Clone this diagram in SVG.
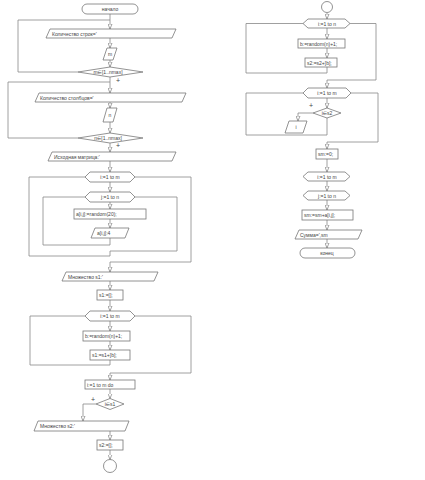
<svg xmlns="http://www.w3.org/2000/svg" width="425" height="480" viewBox="0 0 425 480">
<defs>
<marker id="arr" viewBox="0 0 10 10" refX="10" refY="5" markerWidth="5" markerHeight="5" orient="auto" markerUnits="userSpaceOnUse">
<path d="M0,1 L10,5 L0,9 z" fill="#fff" stroke="#777" stroke-width="1.3"/>
</marker>
<style>
.s{fill:#fff;stroke:#777;stroke-width:0.8}
.c{fill:none;stroke:#888;stroke-width:0.8}
.ca{fill:none;stroke:#888;stroke-width:0.8;marker-end:url(#arr)}
text{font-family:"Liberation Sans","DejaVu Sans",sans-serif;font-size:5px;fill:#444}
.m{text-anchor:middle}
.p{font-size:7px}
</style>
</defs>
<rect width="425" height="480" fill="#fff"/>

<g id="connectors">
<path class="ca" d="M110,14 V29"/>
<path class="c" d="M78,72 H18 V20 H110"/>
<path class="ca" d="M110,38 V48"/>
<path class="ca" d="M110,60 V67"/>
<path class="ca" d="M110,77 V93"/>
<path class="c" d="M78,138 H8 V82 H110"/>
<path class="ca" d="M110,102 V108"/>
<path class="ca" d="M110,122 V133"/>
<path class="ca" d="M110,143 V152"/>
<path class="ca" d="M110,161 V172"/>
<path class="ca" d="M110,182 V192"/>
<path class="ca" d="M110,202 V209"/>
<path class="ca" d="M110,219 V228"/>
<path class="c" d="M110,238 V245 H43 V197 H85"/>
<path class="c" d="M135,197 H177 V251 H110 V256 H29 V177 H85"/>
<path class="c" d="M135,177 H191 V262 H110"/>
<path class="ca" d="M110,262 V272"/>
<path class="ca" d="M110,281 V290"/>
<path class="ca" d="M110,300 V311"/>
<path class="ca" d="M110,321 V331"/>
<path class="ca" d="M110,341 V350"/>
<path class="c" d="M110,360 V365 H30 V316 H85"/>
<path class="c" d="M135,316 H191 V373 H110"/>
<path class="ca" d="M110,373 V380"/>
<path class="ca" d="M110,389 V398.5"/>
<path class="ca" d="M96,404 H83 V421"/>
<path class="ca" d="M110,431 V440"/>
<path class="ca" d="M110,450 V459.5"/>

<path class="ca" d="M327,13 V19"/>
<path class="ca" d="M327,28 V39"/>
<path class="ca" d="M327,48 V58"/>
<path class="c" d="M327,67 V73 H246 V23.5 H303"/>
<path class="c" d="M350,23.5 H376 V80 H327"/>
<path class="ca" d="M327,80 V88"/>
<path class="ca" d="M327,98 V108"/>
<path class="ca" d="M313,113 H298 V121"/>
<path class="c" d="M327,118 V135 H246 V93 H303"/>
<path class="c" d="M351,93 H378 V142 H327"/>
<path class="ca" d="M327,142 V149"/>
<path class="ca" d="M327,159 V172"/>
<path class="ca" d="M327,181 V191"/>
<path class="ca" d="M327,200 V210"/>
<path class="ca" d="M327,220 V230"/>
<path class="ca" d="M327,239 V248"/>
</g>

<g id="start"><rect class="s" x="82" y="4" width="56" height="10" rx="5"/><text class="m" x="110" y="11">начало</text></g>
<g id="in_rows"><polygon class="s" points="50,29 176,29 172,38 46,38"/><text x="52" y="35.5">Количество строк='</text></g>
<g id="read_m"><polygon class="s" points="107,48 117,48 113,60 103,60"/><text class="m" x="110" y="56">m</text></g>
<g id="cond_m"><polygon class="s" points="78,72 110,67 143,72 110,77"/><text class="m" x="108" y="74">m∈[1..nmax]</text></g>
<g id="plus1"><text class="p" x="116" y="83">+</text></g>
<g id="in_cols"><polygon class="s" points="39,93 186,93 182,102 35,102"/><text x="40" y="99.5">Количество столбцов='</text></g>
<g id="read_n"><polygon class="s" points="107,108 117,108 113,122 103,122"/><text class="m" x="110" y="117">n</text></g>
<g id="cond_n"><polygon class="s" points="78,138 110,133 143,138 110,143"/><text class="m" x="108" y="140">n∈[1..nmax]</text></g>
<g id="plus2"><text class="p" x="116" y="148">+</text></g>
<g id="out_matrix"><polygon class="s" points="52,152 176,152 172,161 48,161"/><text x="54" y="158.5">Исходная матрица:'</text></g>
<g id="loop_i1"><polygon class="s" points="85,177 90,172 130,172 135,177 130,182 90,182"/><text class="m" x="110" y="179">i:=1 to m</text></g>
<g id="loop_j1"><polygon class="s" points="85,197 90,192 130,192 135,197 130,202 90,202"/><text class="m" x="110" y="199">j:=1 to n</text></g>
<g id="assign_a"><rect class="s" x="74" y="209" width="72" height="10"/><text x="76" y="216">a[i,j]:=random(20);</text></g>
<g id="out_a"><polygon class="s" points="95,228 129,228 125,238 91,238"/><text x="97" y="235">a[i,j]:4</text></g>
<g id="out_s1"><polygon class="s" points="66,272 158,272 154,281 62,281"/><text x="68" y="278.5">Множество s1:'</text></g>
<g id="init_s1"><rect class="s" x="97" y="290" width="26" height="10"/><text x="99" y="297">s1:=[];</text></g>
<g id="loop_i2"><polygon class="s" points="85,316 90,311 130,311 135,316 130,321 90,321"/><text class="m" x="110" y="318">i:=1 to m</text></g>
<g id="rand_b1"><rect class="s" x="83" y="331" width="47" height="10"/><text x="85" y="338">b:=random(n)+1;</text></g>
<g id="add_s1"><rect class="s" x="90" y="350" width="40" height="10"/><text x="92" y="357">s1:=s1+[b];</text></g>
<g id="for_do"><rect class="s" x="85" y="380" width="50" height="9"/><text x="87" y="386.5">i:=1 to m do</text></g>
<g id="cond_s1"><polygon class="s" points="96,404 110,398.5 124,404 110,409.5"/><text class="m" x="110" y="406">i∈s1</text></g>
<g id="plus3"><text class="p" x="91" y="402">+</text></g>
<g id="out_s2"><polygon class="s" points="38,421 129,421 125,431 34,431"/><text x="40" y="428">Множество s2:'</text></g>
<g id="init_s2"><rect class="s" x="97" y="440" width="26" height="10"/><text x="99" y="447">s2:=[];</text></g>
<g id="conn_a"><circle class="s" cx="110" cy="466" r="6.5"/></g>

<g id="conn_b"><circle class="s" cx="327" cy="7" r="5.5"/></g>
<g id="loop_i3"><polygon class="s" points="303,23.5 308,19 345,19 350,23.5 345,28 308,28"/><text class="m" x="327" y="25.5">i:=1 to n</text></g>
<g id="rand_b2"><rect class="s" x="298" y="39" width="47" height="9"/><text x="300" y="45.5">b:=random(n)+1;</text></g>
<g id="add_s2"><rect class="s" x="305" y="58" width="32" height="9"/><text x="307" y="64.5">s2:=s2+[b];</text></g>
<g id="loop_i4"><polygon class="s" points="303,93 308,88 346,88 351,93 346,98 308,98"/><text class="m" x="327" y="95">i:=1 to m</text></g>
<g id="cond_s2"><polygon class="s" points="313,113 327,108 341,113 327,118"/><text class="m" x="327" y="115">i∈s2</text></g>
<g id="plus4"><text class="p" x="309" y="108">+</text></g>
<g id="out_i"><polygon class="s" points="289,121 307,121 303,133 285,133"/><text class="m" x="296" y="129">i</text></g>
<g id="init_sm"><rect class="s" x="316" y="149" width="22" height="10"/><text x="318" y="156">sm:=0;</text></g>
<g id="loop_i5"><polygon class="s" points="303,176.5 308,172 345,172 350,176.5 345,181 308,181"/><text class="m" x="327" y="178.5">i:=1 to m</text></g>
<g id="loop_j5"><polygon class="s" points="303,195.5 308,191 345,191 350,195.5 345,200 308,200"/><text class="m" x="327" y="197.5">j:=1 to n</text></g>
<g id="sum"><rect class="s" x="302" y="210" width="51" height="10"/><text x="304" y="217">sm:=sm+a[i,j];</text></g>
<g id="out_sum"><polygon class="s" points="299,230 362,230 358,239 295,239"/><text x="300" y="236.5">Сумма=',sm</text></g>
<g id="end"><rect class="s" x="300" y="248" width="55" height="10" rx="5"/><text class="m" x="327" y="255">конец</text></g>
</svg>
